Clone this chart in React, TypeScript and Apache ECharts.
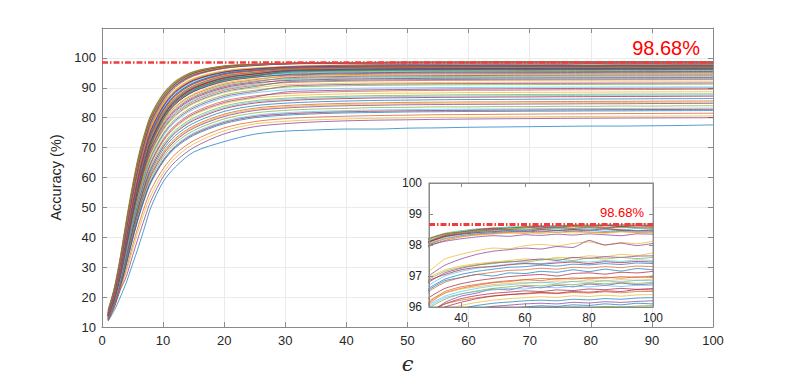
import React, { useEffect, useRef } from "react";
import * as echarts from "echarts";

// epsilon sample points (x values)
const epsilon = [1, 2, 3, 4, 5, 6, 7, 8, 10, 12, 15, 20, 25, 30, 35, 40, 45, 50, 55, 60, 65, 70, 75, 80, 85, 90, 95, 100];

// lowest curve
const lowestCurves = [
  [12.0, 15.5, 20.0, 25.0, 31.0, 37.0, 43.5, 50.0, 58.5, 63.5, 68.5, 72.0, 74.5, 75.5, 75.9, 76.2, 76.2, 76.5, 76.6, 76.8, 76.9, 77.0, 77.1, 77.2, 77.2, 77.3, 77.4, 77.6],
];

// curves ending between 80 and 90
const lowCurves = [
  [13.2, 18.6, 25.8, 34.7, 44.0, 52.3, 59.4, 65.2, 72.8, 77.6, 81.8, 85.6, 87.3, 88.1, 88.5, 88.75, 88.9, 89.05, 89.1, 89.2, 89.18, 89.25, 89.32, 89.35, 89.4, 89.42, 89.46, 89.5],
  [12.9, 18.3, 25.4, 34.2, 43.4, 51.6, 58.6, 64.4, 71.9, 76.7, 80.9, 84.7, 86.5, 87.3, 87.7, 87.95, 88.15, 88.2, 88.3, 88.38, 88.4, 88.48, 88.5, 88.55, 88.6, 88.62, 88.66, 88.7],
  [13.0, 18.4, 25.6, 34.5, 43.7, 52.0, 59.0, 64.8, 72.3, 77.1, 81.3, 85.1, 86.9, 88.6, 89.0, 89.2, 89.35, 89.45, 89.55, 89.6, 89.65, 89.7, 89.75, 89.8, 89.82, 89.85, 89.88, 89.9],
  [13.0, 18.2, 25.2, 33.8, 42.9, 51.0, 57.9, 63.6, 71.0, 75.8, 80.0, 83.9, 85.7, 86.5, 86.95, 87.2, 87.4, 87.48, 87.6, 87.68, 87.7, 87.78, 87.8, 87.85, 87.9, 87.92, 87.96, 88.0],
  [12.7, 17.9, 24.9, 33.5, 42.5, 50.6, 57.5, 63.1, 70.5, 75.3, 79.5, 83.4, 85.3, 86.1, 86.55, 86.8, 86.98, 87.1, 87.2, 87.27, 87.3, 87.37, 87.4, 87.46, 87.5, 87.53, 87.56, 87.6],
  [12.8, 17.9, 24.8, 33.4, 42.3, 50.3, 57.2, 62.8, 70.1, 74.9, 79.1, 83.0, 84.9, 85.7, 86.15, 86.4, 86.6, 86.68, 86.8, 86.85, 86.92, 86.95, 87.02, 87.05, 87.1, 87.12, 87.16, 87.2],
  [12.9, 17.9, 24.7, 33.0, 41.8, 49.7, 56.5, 62.0, 69.3, 74.0, 78.2, 82.1, 84.0, 84.85, 85.3, 85.58, 85.78, 85.88, 86.0, 86.08, 86.1, 86.18, 86.2, 86.26, 86.28, 86.33, 86.36, 86.4],
  [12.6, 17.6, 24.3, 32.6, 41.2, 49.0, 55.7, 61.2, 68.4, 73.1, 77.3, 81.2, 83.2, 84.05, 84.5, 84.8, 84.95, 85.12, 85.2, 85.28, 85.3, 85.36, 85.4, 85.46, 85.48, 85.53, 85.56, 85.6],
  [12.6, 17.6, 24.2, 32.4, 41.0, 48.7, 55.3, 60.8, 68.0, 72.7, 76.9, 80.8, 82.8, 83.65, 84.1, 84.4, 84.56, 84.7, 84.8, 84.86, 84.9, 84.97, 85.0, 85.06, 85.08, 85.13, 85.16, 85.2],
  [12.7, 17.6, 24.2, 32.3, 40.8, 48.5, 55.0, 60.5, 67.6, 72.3, 76.5, 80.4, 82.4, 83.25, 83.7, 84.0, 84.15, 84.32, 84.4, 84.46, 84.5, 84.57, 84.6, 84.66, 84.68, 84.73, 84.76, 84.8],
  [12.5, 17.3, 23.8, 31.8, 40.2, 47.8, 54.3, 59.7, 66.8, 71.5, 75.7, 79.6, 81.6, 82.45, 82.9, 83.12, 83.4, 83.46, 83.62, 83.6, 83.72, 83.7, 83.82, 83.8, 83.9, 83.88, 83.97, 84.0],
  [12.6, 17.3, 23.6, 31.5, 39.8, 47.3, 53.7, 59.0, 66.0, 70.7, 74.9, 78.8, 80.8, 81.65, 82.1, 82.38, 82.58, 82.7, 82.82, 82.85, 82.92, 82.95, 83.02, 83.05, 83.1, 83.12, 83.16, 83.2],
  [12.4, 17.1, 23.4, 31.3, 39.5, 46.9, 53.3, 58.6, 65.6, 70.3, 74.5, 78.4, 80.4, 81.25, 81.7, 81.98, 82.16, 82.3, 82.4, 82.45, 82.52, 82.55, 82.62, 82.65, 82.7, 82.72, 82.76, 82.8],
  [12.3, 17.0, 23.3, 31.1, 39.2, 46.6, 53.0, 58.2, 65.2, 69.9, 74.1, 78.0, 80.0, 80.85, 81.3, 81.6, 81.75, 81.92, 82.0, 82.08, 82.1, 82.17, 82.2, 82.26, 82.28, 82.33, 82.36, 82.4],
  [12.4, 17.0, 23.1, 29.5, 37.2, 44.2, 50.5, 55.8, 62.9, 67.8, 72.3, 76.6, 78.7, 79.7, 80.2, 80.5, 80.72, 80.85, 81.0, 81.05, 81.14, 81.2, 81.27, 81.32, 81.38, 81.42, 81.46, 81.5],
  [12.2, 16.7, 22.8, 28.5, 35.8, 42.5, 48.8, 54.0, 61.5, 66.6, 71.2, 75.6, 77.9, 78.8, 79.3, 79.6, 79.82, 79.95, 80.1, 80.15, 80.24, 80.3, 80.37, 80.42, 80.48, 80.52, 80.56, 80.6],
  [12.1, 16.5, 22.4, 27.0, 33.8, 40.3, 46.5, 52.2, 60.2, 65.3, 70.0, 74.6, 77.0, 78.0, 78.6, 78.95, 79.18, 79.3, 79.46, 79.55, 79.64, 79.7, 79.77, 79.82, 79.88, 79.92, 79.96, 80.0],
];

// curves ending between 90 and 96
const midCurves = [
  [14.1, 19.9, 28.1, 38.5, 49.2, 58.6, 66.5, 72.9, 80.9, 85.8, 89.8, 93.0, 94.3, 94.9, 95.2, 95.4, 95.52, 95.6, 95.66, 95.7, 95.75, 95.78, 95.8, 95.83, 95.85, 95.86, 95.88, 95.9],
  [14.0, 19.8, 28.0, 38.3, 49.0, 58.3, 66.2, 72.6, 80.6, 85.5, 89.5, 92.8, 94.1, 94.7, 95.0, 95.2, 95.33, 95.4, 95.48, 95.5, 95.56, 95.58, 95.61, 95.62, 95.66, 95.66, 95.69, 95.7],
  [13.8, 19.6, 27.7, 37.8, 48.3, 57.5, 65.3, 71.6, 79.6, 84.6, 88.7, 92.1, 93.5, 94.4, 94.75, 94.95, 95.08, 95.15, 95.22, 95.25, 95.3, 95.33, 95.35, 95.38, 95.4, 95.41, 95.43, 95.45],
  [14.2, 20.0, 28.0, 38.0, 48.5, 57.8, 65.5, 71.8, 79.8, 84.7, 88.8, 92.2, 93.6, 94.2, 94.5, 94.7, 94.83, 94.9, 94.98, 95.0, 95.06, 95.08, 95.11, 95.12, 95.16, 95.16, 95.19, 95.2],
  [14.0, 19.7, 27.6, 37.4, 47.7, 56.8, 64.6, 70.8, 78.7, 83.6, 87.7, 91.2, 92.7, 93.9, 94.2, 94.4, 94.53, 94.6, 94.67, 94.7, 94.75, 94.78, 94.8, 94.83, 94.85, 94.86, 94.88, 94.9],
  [13.7, 19.4, 27.4, 37.4, 47.8, 57.0, 64.8, 71.0, 79.0, 83.9, 88.0, 91.6, 93.0, 93.6, 93.9, 94.1, 94.23, 94.3, 94.38, 94.4, 94.46, 94.48, 94.51, 94.52, 94.56, 94.56, 94.59, 94.6],
  [13.6, 19.3, 27.1, 36.8, 47.0, 56.0, 63.7, 69.9, 77.8, 82.6, 86.8, 90.4, 92.0, 93.3, 93.6, 93.8, 93.93, 94.0, 94.07, 94.1, 94.15, 94.18, 94.2, 94.23, 94.25, 94.26, 94.28, 94.3],
  [13.9, 19.5, 27.3, 37.0, 47.2, 56.3, 64.0, 70.2, 78.2, 83.0, 87.2, 90.8, 92.3, 93.0, 93.3, 93.5, 93.63, 93.7, 93.78, 93.8, 93.86, 93.88, 93.91, 93.92, 93.96, 93.96, 93.99, 94.0],
  [13.7, 19.3, 27.0, 36.5, 46.5, 55.4, 63.0, 69.1, 76.9, 81.7, 85.9, 89.6, 91.2, 92.7, 93.0, 93.2, 93.33, 93.4, 93.47, 93.5, 93.55, 93.58, 93.6, 93.62, 93.65, 93.66, 93.68, 93.7],
  [13.5, 19.1, 26.9, 36.6, 46.7, 55.7, 63.3, 69.5, 77.3, 82.2, 86.4, 90.0, 91.6, 92.4, 92.7, 92.9, 93.03, 93.1, 93.18, 93.2, 93.26, 93.28, 93.31, 93.32, 93.36, 93.36, 93.39, 93.4],
  [13.4, 19.0, 26.7, 36.1, 45.9, 54.7, 62.2, 68.3, 76.0, 80.8, 85.0, 88.7, 90.4, 91.95, 92.3, 92.5, 92.63, 92.7, 92.77, 92.8, 92.85, 92.88, 92.9, 92.92, 92.95, 92.96, 92.98, 93.0],
  [13.6, 19.2, 26.8, 36.3, 46.2, 55.0, 62.5, 68.6, 76.4, 81.3, 85.5, 89.2, 90.8, 91.7, 92.0, 92.2, 92.33, 92.4, 92.48, 92.5, 92.56, 92.58, 92.61, 92.62, 92.66, 92.66, 92.69, 92.7],
  [13.3, 18.8, 26.4, 35.8, 45.6, 54.4, 61.8, 67.8, 75.6, 80.5, 84.7, 88.4, 90.0, 91.0, 91.3, 91.5, 91.63, 91.7, 91.78, 91.8, 91.86, 91.88, 91.91, 91.92, 91.96, 91.96, 91.99, 92.0],
  [13.2, 18.7, 26.1, 35.3, 44.9, 53.5, 60.7, 66.7, 74.3, 79.1, 83.3, 87.1, 88.8, 90.5, 90.9, 91.1, 91.23, 91.3, 91.37, 91.4, 91.45, 91.48, 91.5, 91.52, 91.55, 91.56, 91.58, 91.6],
  [13.4, 18.9, 26.3, 35.5, 45.1, 53.7, 61.0, 67.0, 74.7, 79.6, 83.8, 87.6, 89.2, 90.2, 90.5, 90.7, 90.83, 90.9, 90.98, 91.0, 91.06, 91.08, 91.11, 91.12, 91.16, 91.16, 91.19, 91.2],
  [13.1, 18.5, 25.9, 35.0, 44.5, 53.0, 60.2, 66.1, 73.8, 78.6, 82.8, 86.6, 88.3, 89.3, 89.6, 89.8, 89.93, 90.0, 90.08, 90.1, 90.16, 90.18, 90.21, 90.22, 90.26, 90.26, 90.29, 90.3],
];

// curves ending between 96 and 97.2
const highCurves = [
  [14.3, 20.3, 28.8, 39.3, 50.2, 59.8, 67.8, 74.3, 82.3, 87.3, 91.3, 94.5, 95.6, 96.3, 96.6, 96.75, 96.85, 96.92, 96.98, 97.02, 97.05, 97.0, 97.08, 97.1, 97.06, 97.12, 97.1, 97.15],
  [13.6, 19.2, 27.2, 37.2, 47.6, 56.9, 64.8, 71.3, 79.6, 84.8, 89.2, 92.7, 94.0, 95.1, 95.5, 95.7, 95.82, 95.9, 95.96, 96.0, 96.04, 96.02, 96.07, 96.05, 96.1, 96.07, 96.12, 96.1],
  [13.9, 19.7, 28.0, 38.3, 48.9, 58.4, 66.4, 72.9, 81.1, 86.3, 90.5, 93.9, 95.2, 96.1, 96.45, 96.6, 96.7, 96.78, 96.82, 96.88, 96.85, 96.92, 96.9, 96.95, 96.93, 96.98, 96.96, 97.0],
  [14.2, 20.1, 28.5, 38.9, 49.8, 59.3, 67.3, 73.8, 81.8, 86.8, 90.8, 94.0, 95.1, 96.2, 96.45, 96.58, 96.65, 96.72, 96.76, 96.8, 96.78, 96.84, 96.82, 96.87, 96.85, 96.88, 96.86, 96.9],
  [13.9, 19.7, 27.9, 38.1, 48.7, 58.2, 66.2, 72.7, 80.9, 86.1, 90.3, 93.6, 94.8, 95.75, 96.15, 96.35, 96.45, 96.58, 96.55, 96.66, 96.62, 96.7, 96.65, 96.74, 96.7, 96.77, 96.72, 96.75],
  [13.8, 19.6, 27.8, 38.0, 48.5, 58.0, 66.0, 72.5, 80.8, 86.0, 90.2, 93.6, 94.9, 95.95, 96.25, 96.42, 96.52, 96.6, 96.65, 96.7, 96.68, 96.74, 96.72, 96.77, 96.75, 96.79, 96.76, 96.8],
  [14.1, 19.9, 28.2, 38.5, 49.3, 58.8, 66.8, 73.3, 81.4, 86.4, 90.5, 93.7, 94.9, 96.0, 96.3, 96.42, 96.5, 96.55, 96.6, 96.58, 96.64, 96.62, 96.67, 96.65, 96.69, 96.66, 96.7, 96.7],
  [13.7, 19.4, 27.5, 37.6, 48.1, 57.5, 65.5, 72.0, 80.3, 85.5, 89.8, 93.2, 94.6, 95.8, 96.1, 96.27, 96.37, 96.44, 96.48, 96.52, 96.5, 96.55, 96.53, 96.58, 96.56, 96.6, 96.57, 96.6],
  [14.4, 20.5, 29.0, 39.6, 50.5, 60.1, 68.1, 74.6, 82.6, 87.6, 91.6, 94.8, 95.85, 96.55, 96.85, 96.95, 97.05, 97.0, 97.1, 97.08, 97.15, 97.12, 97.2, 97.14, 97.22, 97.16, 97.24, 97.2],
  [14.0, 19.8, 28.0, 38.2, 48.9, 58.4, 66.3, 72.8, 80.9, 86.0, 90.1, 93.4, 94.6, 95.85, 96.1, 96.22, 96.3, 96.36, 96.4, 96.42, 96.45, 96.43, 96.47, 96.45, 96.49, 96.46, 96.5, 96.5],
  [13.6, 19.3, 27.3, 37.3, 47.7, 57.1, 65.0, 71.5, 79.8, 85.0, 89.4, 92.9, 94.3, 95.6, 95.9, 96.05, 96.15, 96.22, 96.27, 96.3, 96.33, 96.31, 96.36, 96.34, 96.38, 96.35, 96.39, 96.4],
  [13.5, 19.1, 27.0, 36.9, 47.3, 56.6, 64.5, 71.0, 79.3, 84.5, 88.9, 92.5, 93.9, 95.4, 95.7, 95.85, 95.95, 96.02, 96.06, 96.1, 96.12, 96.1, 96.15, 96.13, 96.17, 96.15, 96.18, 96.2],
  [13.9, 19.6, 27.6, 37.6, 48.1, 57.4, 65.2, 71.6, 79.7, 84.8, 89.1, 92.5, 93.8, 95.3, 95.55, 95.7, 95.8, 95.87, 95.92, 95.95, 95.98, 95.96, 96.0, 95.98, 96.02, 96.0, 96.03, 96.05],
  [14.0, 19.8, 28.1, 38.4, 49.1, 58.6, 66.6, 73.1, 81.2, 86.3, 90.4, 93.7, 94.95, 96.05, 96.35, 96.5, 96.6, 96.68, 96.72, 96.76, 96.8, 96.77, 96.82, 96.8, 96.84, 96.81, 96.86, 96.85],
  [13.7, 19.4, 27.5, 37.6, 48.1, 57.6, 65.6, 72.1, 80.4, 85.6, 89.9, 93.3, 94.6, 95.7, 96.0, 96.15, 96.27, 96.35, 96.4, 96.44, 96.47, 96.45, 96.5, 96.48, 96.52, 96.5, 96.56, 96.55],
  [14.0, 19.7, 27.8, 37.9, 48.4, 57.7, 65.5, 71.9, 80.0, 85.1, 89.4, 92.8, 94.1, 95.5, 95.8, 95.95, 96.05, 96.12, 96.16, 96.2, 96.22, 96.2, 96.25, 96.23, 96.27, 96.25, 96.29, 96.3],
  [14.1, 20.0, 28.4, 38.8, 49.6, 59.1, 67.1, 73.6, 81.6, 86.6, 90.7, 94.0, 95.15, 96.15, 96.5, 96.65, 96.73, 96.8, 96.85, 96.88, 96.92, 96.9, 96.94, 96.91, 96.96, 96.93, 96.97, 96.95],
];

// curves ending between 97.3 and 98.1
const upperCurves = [
  [14.7, 21.2, 30.3, 41.4, 52.5, 62.4, 70.4, 76.9, 84.8, 89.5, 93.2, 95.7, 96.6, 96.95, 97.2, 97.32, 97.4, 97.45, 97.5, 97.55, 97.52, 97.6, 97.58, 97.65, 97.62, 97.7, 97.66, 97.75],
  [14.3, 20.6, 29.4, 40.2, 51.2, 61.0, 69.2, 75.7, 83.7, 88.6, 92.5, 95.3, 96.3, 96.8, 97.1, 97.25, 97.35, 97.42, 97.45, 97.5, 97.55, 97.5, 97.6, 97.57, 97.62, 97.6, 97.64, 97.65],
  [14.6, 21.0, 30.0, 41.0, 52.0, 61.9, 70.0, 76.4, 84.3, 89.1, 92.9, 95.5, 96.45, 96.9, 97.15, 97.28, 97.36, 97.4, 97.47, 97.45, 97.52, 97.55, 97.5, 97.58, 97.55, 97.6, 97.56, 97.6],
  [14.2, 20.4, 29.1, 39.8, 50.8, 60.5, 68.7, 75.2, 83.2, 88.1, 92.1, 95.0, 96.1, 96.7, 97.0, 97.15, 97.25, 97.32, 97.38, 97.42, 97.4, 97.46, 97.48, 97.45, 97.5, 97.47, 97.52, 97.5],
  [14.5, 20.8, 29.7, 40.6, 51.6, 61.5, 69.6, 76.0, 83.9, 88.8, 92.6, 95.3, 96.3, 96.85, 97.05, 97.2, 97.28, 97.3, 97.36, 97.4, 97.38, 97.42, 97.45, 97.4, 97.46, 97.43, 97.47, 97.45],
  [14.1, 20.2, 28.8, 39.4, 50.3, 60.0, 68.2, 74.7, 82.7, 87.7, 91.7, 94.7, 95.9, 96.6, 96.9, 97.05, 97.15, 97.22, 97.28, 97.3, 97.35, 97.32, 97.38, 97.36, 97.4, 97.37, 97.42, 97.4],
  [14.0, 20.0, 28.5, 39.0, 49.9, 59.6, 67.7, 74.2, 82.2, 87.2, 91.3, 94.4, 95.7, 96.5, 96.8, 96.95, 97.05, 97.12, 97.18, 97.2, 97.25, 97.22, 97.28, 97.26, 97.3, 97.27, 97.32, 97.3],
  [14.6, 21.0, 30.0, 41.0, 52.0, 62.0, 70.0, 76.5, 84.5, 89.2, 93.0, 95.6, 96.6, 97.15, 97.55, 97.7, 97.82, 97.9, 97.88, 97.98, 98.02, 97.97, 98.05, 98.1, 98.0, 98.08, 98.04, 98.12],
  [14.2, 20.5, 29.2, 40.0, 51.0, 60.8, 69.0, 75.5, 83.5, 88.4, 92.4, 95.2, 96.3, 97.0, 97.35, 97.55, 97.7, 97.8, 97.85, 97.9, 97.87, 97.95, 97.92, 98.15, 98.0, 98.06, 97.98, 98.05],
];

// top cluster, ending near the best accuracy
const topCurves = [
  [15.8, 23.1, 33.6, 46.2, 57.6, 67.6, 75.1, 81.1, 88.1, 92.3, 95.5, 97.35, 97.95, 98.22, 98.38, 98.46, 98.52, 98.55, 98.58, 98.6, 98.63, 98.61, 98.66, 98.64, 98.67, 98.65, 98.7, 98.66],
  [15.3, 22.3, 32.7, 44.8, 56.3, 66.2, 74.0, 80.2, 87.4, 91.8, 95.1, 97.15, 97.8, 98.15, 98.33, 98.44, 98.5, 98.53, 98.57, 98.56, 98.61, 98.63, 98.6, 98.65, 98.62, 98.66, 98.63, 98.64],
  [15.6, 22.8, 33.2, 45.5, 57.0, 67.0, 74.6, 80.7, 87.8, 92.0, 95.3, 97.25, 97.85, 98.2, 98.36, 98.42, 98.49, 98.54, 98.53, 98.58, 98.6, 98.57, 98.63, 98.6, 98.64, 98.61, 98.65, 98.62],
  [14.9, 21.7, 31.8, 43.8, 55.3, 65.3, 73.2, 79.5, 86.9, 91.4, 94.8, 96.95, 97.7, 98.1, 98.3, 98.41, 98.47, 98.5, 98.55, 98.57, 98.55, 98.6, 98.62, 98.58, 98.63, 98.6, 98.61, 98.6],
  [15.1, 22.0, 32.2, 44.2, 55.8, 65.8, 73.6, 79.9, 87.1, 91.6, 95.0, 97.1, 97.75, 98.12, 98.32, 98.4, 98.46, 98.52, 98.5, 98.56, 98.58, 98.55, 98.6, 98.62, 98.57, 98.6, 98.62, 98.58],
  [14.6, 21.1, 30.7, 42.3, 53.8, 63.8, 71.8, 78.3, 86.0, 90.7, 94.3, 96.75, 97.6, 98.05, 98.27, 98.38, 98.45, 98.48, 98.53, 98.55, 98.52, 98.58, 98.56, 98.6, 98.58, 98.55, 98.6, 98.57],
  [14.8, 21.5, 31.4, 43.3, 54.8, 64.8, 72.8, 79.1, 86.5, 91.0, 94.6, 96.85, 97.65, 98.08, 98.28, 98.37, 98.43, 98.49, 98.5, 98.48, 98.54, 98.56, 98.53, 98.58, 98.55, 98.59, 98.56, 98.55],
  [15.5, 22.6, 32.9, 45.1, 56.6, 66.6, 74.3, 80.4, 87.6, 91.9, 95.2, 97.2, 97.8, 98.18, 98.34, 98.4, 98.44, 98.47, 98.5, 98.52, 98.5, 98.55, 98.53, 98.56, 98.52, 98.57, 98.54, 98.53],
  [14.5, 20.9, 30.4, 41.9, 53.3, 63.3, 71.3, 77.8, 85.6, 90.4, 94.1, 96.6, 97.55, 98.02, 98.24, 98.34, 98.4, 98.45, 98.47, 98.5, 98.48, 98.52, 98.5, 98.54, 98.51, 98.48, 98.53, 98.5],
  [15.0, 21.8, 31.9, 43.9, 55.4, 65.4, 73.3, 79.6, 86.8, 91.3, 94.8, 96.95, 97.65, 98.1, 98.27, 98.35, 98.4, 98.43, 98.46, 98.44, 98.49, 98.47, 98.5, 98.48, 98.52, 98.49, 98.46, 98.48],
  [14.7, 21.3, 31.1, 42.8, 54.3, 64.3, 72.3, 78.7, 86.2, 90.8, 94.4, 96.7, 97.55, 98.0, 98.2, 98.3, 98.36, 98.4, 98.43, 98.45, 98.42, 98.47, 98.45, 98.48, 98.44, 98.47, 98.45, 98.45],
  [14.4, 20.7, 30.1, 41.5, 52.9, 62.9, 70.9, 77.4, 85.2, 90.1, 93.9, 96.5, 97.45, 97.95, 98.15, 98.26, 98.33, 98.37, 98.4, 98.38, 98.43, 98.41, 98.45, 98.42, 98.4, 98.44, 98.41, 98.42],
  [14.9, 21.6, 31.6, 43.5, 55.0, 65.0, 72.9, 79.3, 86.6, 91.1, 94.6, 96.8, 97.55, 98.05, 98.2, 98.28, 98.32, 98.35, 98.38, 98.4, 98.37, 98.42, 98.39, 98.41, 98.38, 98.42, 98.4, 98.4],
  [14.6, 21.2, 30.9, 42.5, 54.0, 64.0, 72.0, 78.4, 85.9, 90.6, 94.2, 96.55, 97.45, 97.98, 98.12, 98.2, 98.26, 98.3, 98.28, 98.33, 98.31, 98.35, 98.32, 98.36, 98.33, 98.3, 98.36, 98.35],
];

const peakAccuracy = 98.68;
const mainXTicks = [0, 10, 20, 30, 40, 50, 60, 70, 80, 90, 100];
const mainYTicks = [10, 20, 30, 40, 50, 60, 70, 80, 90, 100];
const insetXTicks = [40, 60, 80, 100];
const insetYTicks = [96, 97, 98, 99, 100];
const lineColors = ["#0072BD", "#D95319", "#EDB120", "#7E2F8E", "#77AC30", "#4DBEEE", "#A2142F"];

const FONT = '"Liberation Sans", Arial, Helvetica, sans-serif';
const AXIS_COLOR = "#8a8a8a";
const TEXT_COLOR = "#262626";
const RED_LINE = "#f23c3c";

export default function App() {
  const ref = useRef<HTMLDivElement>(null);

  useEffect(() => {
    if (!ref.current) return;
    const chart = echarts.init(ref.current, undefined, { renderer: "svg" });

    const curves = [...lowestCurves, ...lowCurves, ...midCurves, ...highCurves, ...upperCurves, ...topCurves];

    const mainSeries: any[] = [];
    const insetSeries: any[] = [];
    curves.forEach((c, i) => {
      const data = epsilon.map((e, k) => [e, c[k]]);
      const color = lineColors[i % lineColors.length];
      mainSeries.push({
        type: "line",
        xAxisIndex: 0,
        yAxisIndex: 0,
        data,
        showSymbol: false,
        symbol: "none",
        smooth: 0.3,
        silent: true,
        z: 2,
        lineStyle: { width: 0.7, color },
      });
      insetSeries.push({
        type: "line",
        xAxisIndex: 2,
        yAxisIndex: 2,
        data,
        showSymbol: false,
        symbol: "none",
        smooth: 0.15,
        silent: true,
        clip: true,
        z: 12,
        lineStyle: { width: 0.7, color },
      });
    });

    const markSeries = (xi: number, yi: number, width: number, fontSize: number, dist: number[], z: number) => ({
      type: "line",
      xAxisIndex: xi,
      yAxisIndex: yi,
      data: [],
      silent: true,
      z,
      markLine: {
        silent: true,
        z,
        symbol: ["none", "none"],
        animation: false,
        lineStyle: { color: RED_LINE, width, type: [6, 2, 1.5, 2], opacity: 1 },
        label: {
          show: true,
          position: "insideEndTop",
          formatter: `${peakAccuracy}%`,
          color: "#ff0000",
          fontSize,
          fontFamily: FONT,
          distance: dist,
        },
        data: [{ yAxis: peakAccuracy }],
      },
    });

    const tickStyle = { lineStyle: { color: AXIS_COLOR, width: 1 } };

    const option: any = {
      animation: false,
      backgroundColor: "#ffffff",
      grid: [
        { left: 102, top: 28, right: 76, bottom: 52, containLabel: false },
        {
          left: 429, top: 183, width: 224, height: 124, show: true,
          backgroundColor: "#ffffff", borderColor: AXIS_COLOR, borderWidth: 1, z: 10,
        },
      ],
      xAxis: [
        {
          gridIndex: 0, type: "value", min: 0, max: 100, interval: 10, position: "bottom",
          name: "ϵ", nameLocation: "middle", nameGap: 26,
          nameTextStyle: { fontSize: 21, color: TEXT_COLOR, fontFamily: '"DejaVu Serif", serif', fontStyle: "italic" },
          axisLine: { show: true, onZero: false, lineStyle: { color: AXIS_COLOR, width: 1 } },
          axisTick: { show: true, inside: true, length: 5, ...tickStyle },
          axisLabel: { show: true, margin: 7, fontSize: 13, color: TEXT_COLOR, fontFamily: FONT,
            formatter: (v: number) => (mainXTicks.includes(v) ? String(v) : "") },
          splitLine: { show: true, lineStyle: { color: "#ebebeb", width: 1 } },
        },
        {
          gridIndex: 0, type: "value", min: 0, max: 100, interval: 10, position: "top",
          axisLine: { show: true, onZero: false, lineStyle: { color: AXIS_COLOR, width: 1 } },
          axisTick: { show: true, inside: true, length: 5, ...tickStyle },
          axisLabel: { show: false },
          splitLine: { show: false },
        },
        {
          gridIndex: 1, type: "value", min: 30, max: 100, position: "bottom", z: 13,
          axisLine: { show: true, onZero: false, lineStyle: { color: AXIS_COLOR, width: 1 } },
          axisTick: { show: true, inside: true, length: 4, customValues: insetXTicks, ...tickStyle },
          axisLabel: { show: true, margin: 5, fontSize: 12, color: TEXT_COLOR, fontFamily: FONT, customValues: insetXTicks },
          splitLine: { show: false },
        },
        {
          gridIndex: 1, type: "value", min: 30, max: 100, position: "top", z: 13,
          axisLine: { show: true, onZero: false, lineStyle: { color: AXIS_COLOR, width: 1 } },
          axisTick: { show: true, inside: true, length: 4, customValues: insetXTicks, ...tickStyle },
          axisLabel: { show: false },
          splitLine: { show: false },
        },
      ],
      yAxis: [
        {
          gridIndex: 0, type: "value", min: 10, max: 110, interval: 10, position: "left",
          name: "Accuracy (%)", nameLocation: "middle", nameGap: 32,
          nameTextStyle: { fontSize: 14.5, color: TEXT_COLOR, fontFamily: FONT },
          axisLine: { show: true, onZero: false, lineStyle: { color: AXIS_COLOR, width: 1 } },
          axisTick: { show: true, inside: true, length: 5, ...tickStyle },
          axisLabel: { show: true, margin: 6, fontSize: 13, color: TEXT_COLOR, fontFamily: FONT,
            formatter: (v: number) => (mainYTicks.includes(v) ? String(v) : "") },
          splitLine: { show: true, lineStyle: { color: "#ebebeb", width: 1 } },
        },
        {
          gridIndex: 0, type: "value", min: 10, max: 110, interval: 10, position: "right",
          axisLine: { show: true, onZero: false, lineStyle: { color: AXIS_COLOR, width: 1 } },
          axisTick: { show: true, inside: true, length: 5, ...tickStyle },
          axisLabel: { show: false },
          splitLine: { show: false },
        },
        {
          gridIndex: 1, type: "value", min: 96, max: 100, interval: 1, position: "left", z: 13,
          axisLine: { show: true, onZero: false, lineStyle: { color: AXIS_COLOR, width: 1 } },
          axisTick: { show: true, inside: true, length: 4, ...tickStyle },
          axisLabel: { show: true, margin: 7, fontSize: 12, color: TEXT_COLOR, fontFamily: FONT,
            formatter: (v: number) => (insetYTicks.includes(v) ? String(v) : "") },
          splitLine: { show: false },
        },
        {
          gridIndex: 1, type: "value", min: 96, max: 100, interval: 1, position: "right", z: 13,
          axisLine: { show: true, onZero: false, lineStyle: { color: AXIS_COLOR, width: 1 } },
          axisTick: { show: true, inside: true, length: 4, ...tickStyle },
          axisLabel: { show: false },
          splitLine: { show: false },
        },
      ],
      series: [
        ...mainSeries,
        markSeries(0, 0, 2.7, 20, [13, 4], 5),
        ...insetSeries,
        markSeries(2, 2, 3, 13, [9, 5], 15),
      ],
    };

    chart.setOption(option);
    return () => chart.dispose();
  }, []);

  return (
    <div
      ref={ref}
      style={{ position: "fixed", left: 0, top: 0, width: 789, height: 379, background: "#ffffff" }}
    />
  );
}
